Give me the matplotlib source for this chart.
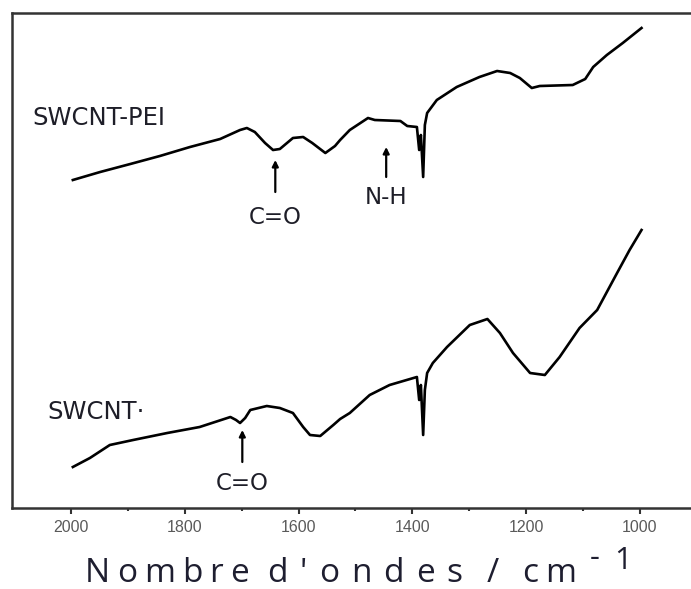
import matplotlib
matplotlib.use("Agg")
import matplotlib.pyplot as plt

# FTIR spectra, wavenumber (cm-1) vs transmittance (a.u.)
wn_pei = [1997, 1949, 1896, 1844, 1791, 1738, 1703, 1691, 1677, 1659, 1645,
          1633, 1610, 1592, 1576, 1553, 1536, 1527, 1510, 1478, 1466, 1421,
          1409, 1392, 1388, 1385, 1381, 1378, 1374, 1357, 1322, 1282, 1251,
          1228, 1211, 1190, 1176, 1118, 1096, 1082, 1058, 1030, 997]
t_pei = [328, 336, 344, 352, 361, 369, 378, 380, 376, 365, 358,
         359, 370, 371, 365, 355, 362, 368, 378, 390, 388, 387,
         382, 381, 358, 373, 331, 383, 395, 408, 421, 431, 437,
         435, 430, 420, 422, 423, 429, 441, 453, 465, 480]

wn_cnt = [1997, 1967, 1932, 1891, 1831, 1774, 1720, 1710, 1703, 1694, 1685,
          1656, 1633, 1610, 1592, 1580, 1562, 1539, 1527, 1510, 1475, 1440,
          1392, 1388, 1385, 1381, 1378, 1374, 1364, 1339, 1299, 1268, 1246,
          1223, 1193, 1167, 1141, 1106, 1075, 1040, 1018, 997]
t_cnt = [41, 50, 63, 68, 75, 81, 91, 88, 85, 90, 98,
         102, 100, 95, 81, 73, 72, 83, 89, 95, 113, 123,
         131, 108, 123, 73, 118, 135, 145, 161, 183, 189, 175,
         155, 135, 133, 151, 180, 198, 235, 258, 278]

major_ticks = [2000, 1800, 1600, 1400, 1200, 1000]
minor_ticks = [1900, 1700, 1500, 1300, 1100]

W, H = 691, 589
fig = plt.figure(figsize=(W / 100, H / 100), dpi=100)
ax = fig.add_axes([12 / W, 1 - 508 / H, 1 - 12 / W, (508 - 13) / H])

ax.plot(wn_pei, t_pei, color="black", lw=1.9)
ax.plot(wn_cnt, t_cnt, color="black", lw=1.9)

ax.set_xlim(2104, 910)
ax.set_ylim(0, 495)

for side in ["left", "top", "bottom"]:
    ax.spines[side].set_linewidth(1.8)
    ax.spines[side].set_color("#333333")
ax.spines["right"].set_visible(False)

ax.set_yticks([])
ax.set_xticks(major_ticks)
ax.set_xticks(minor_ticks, minor=True)
ax.tick_params(axis="x", which="major", direction="out", length=4, width=1.5,
               color="#333333", labelsize=11.5, labelcolor="#5a5a5a", pad=5)
ax.tick_params(axis="x", which="minor", direction="out", length=2.5, width=1.5,
               color="#333333")
for lbl in ax.get_xticklabels():
    lbl.set_family("Liberation Sans")

txt = dict(family="DejaVu Sans", color="#1e1e28")
arrow = dict(arrowstyle="-|>", color="black", lw=1.6, mutation_scale=9,
             shrinkA=0, shrinkB=0)

ax.text(2069, 390, "SWCNT-PEI", fontsize=17.5, va="center", ha="left", **txt)
ax.text(2042, 96, "SWCNT\u00b7", fontsize=17.5, va="center", ha="left", **txt)

# band assignments
ax.annotate("", xy=(1641, 348), xytext=(1641, 316), arrowprops=arrow)
ax.text(1641, 290, "C=O", fontsize=16.5, ha="center", va="center", **txt)
ax.annotate("", xy=(1446, 361), xytext=(1446, 331), arrowprops=arrow)
ax.text(1446, 311, "N-H", fontsize=16.5, ha="center", va="center", **txt)
ax.annotate("", xy=(1699, 78), xytext=(1699, 46), arrowprops=arrow)
ax.text(1699, 25, "C=O", fontsize=16.5, ha="center", va="center", **txt)


def spaced(word, x0, base, gap, size):
    # lay out one glyph at a time with a fixed gap (pixels) between them
    x = x0
    for ch in word:
        t = fig.text(x / W, 1 - base / H, ch, fontsize=size, ha="left",
                     va="baseline", family="Open Sans", color="#1e1e30")
        fig.canvas.draw()
        x = t.get_window_extent().x1 + gap


# axis title, letter-spaced, with a raised exponent
spaced("Nombre", 85, 582, 7, 24)
spaced("d'ondes", 267, 582, 12, 24)
spaced("/", 487, 582, 0, 24)
spaced("cm", 522, 582, 7, 24)
spaced("-", 590, 566, 0, 22)
spaced("1", 614, 569, 0, 22)

fig.savefig("out.png", dpi=100)
